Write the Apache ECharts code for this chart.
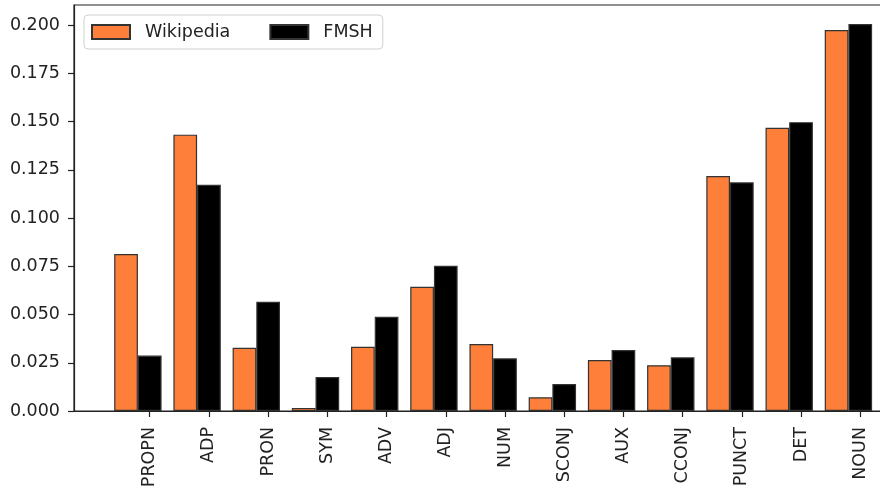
<!DOCTYPE html>
<html>
<head>
<meta charset="utf-8">
<script src="https://cdn.jsdelivr.net/npm/echarts@6/dist/echarts.min.js"></script>
<style>html,body{margin:0;padding:0;background:#fff;overflow:hidden;width:880px;height:492px}#c{width:910px;height:492px}</style>
</head>
<body>
<div id="c"></div>
<script>
const categories = ['PROPN','ADP','PRON','SYM','ADV','ADJ','NUM','SCONJ','AUX','CCONJ','PUNCT','DET','NOUN'];
const wikipedia = [0.0813,0.1432,0.0328,0.0016,0.0333,0.0644,0.0347,0.0071,0.0264,0.0237,0.1218,0.1468,0.1974];
const fmsh = [0.0287,0.1173,0.0566,0.0176,0.0489,0.0753,0.0273,0.0140,0.0316,0.0278,0.1185,0.1497,0.2005];
const yTicks = [0,0.025,0.05,0.075,0.1,0.125,0.15,0.175,0.2];

const font = 'DejaVu Sans';
const idx = categories.map((c,i)=>i);
const chart = echarts.init(document.getElementById('c'));
chart.setOption({
  animation:false,
  backgroundColor:'#fff',
  grid:{left:74,top:5,bottom:81,right:0,show:true,borderColor:'#222',borderWidth:1.2,containLabel:false},
  legend:{
    left:84, top:15, orient:'horizontal',
    itemWidth:38, itemHeight:14, itemGap:39,
    padding:[8,10,8,7],
    borderColor:'#d0d0d0', borderWidth:1, borderRadius:4,
    backgroundColor:'rgba(255,255,255,0.8)',
    icon:'rect',
    textStyle:{fontFamily:font,fontSize:17.5,color:'#222',padding:[0,0,0,10]},
    data:['Wikipedia','FMSH']
  },
  xAxis:{
    type:'value', min:-1.279, max:12.84,
    axisLine:{show:true,onZero:false,lineStyle:{color:'#222',width:1.2}},
    splitLine:{show:false},
    axisTick:{show:true,length:6,lineStyle:{color:'#222',width:1.2},customValues:idx},
    axisLabel:{show:true,rotate:90,margin:16,customValues:idx,fontFamily:font,fontSize:17.5,color:'#222',
      formatter:(v)=>categories[Math.round(v)]}
  },
  yAxis:{
    type:'value', min:0, max:0.2104,
    axisLine:{show:true,onZero:false,lineStyle:{color:'#222',width:1.2}},
    splitLine:{show:false},
    axisTick:{show:true,length:6,lineStyle:{color:'#222',width:1.2},customValues:yTicks},
    axisLabel:{margin:14,customValues:yTicks,fontFamily:font,fontSize:17.5,color:'#222',
      formatter:(v)=>v.toFixed(3)}
  },
  series:[
    {name:'Wikipedia',type:'bar',barWidth:23.7,barGap:'-100%',
     itemStyle:{color:'#fd7f39',borderColor:'#333',borderWidth:1.2},
     data:wikipedia.map((v,i)=>[i-0.4,v])},
    {name:'FMSH',type:'bar',barWidth:23.7,barGap:'-100%',
     itemStyle:{color:'#000',borderColor:'#333',borderWidth:1.2},
     data:fmsh.map((v,i)=>[i,v])}
  ]
});
</script>
</body>
</html>
